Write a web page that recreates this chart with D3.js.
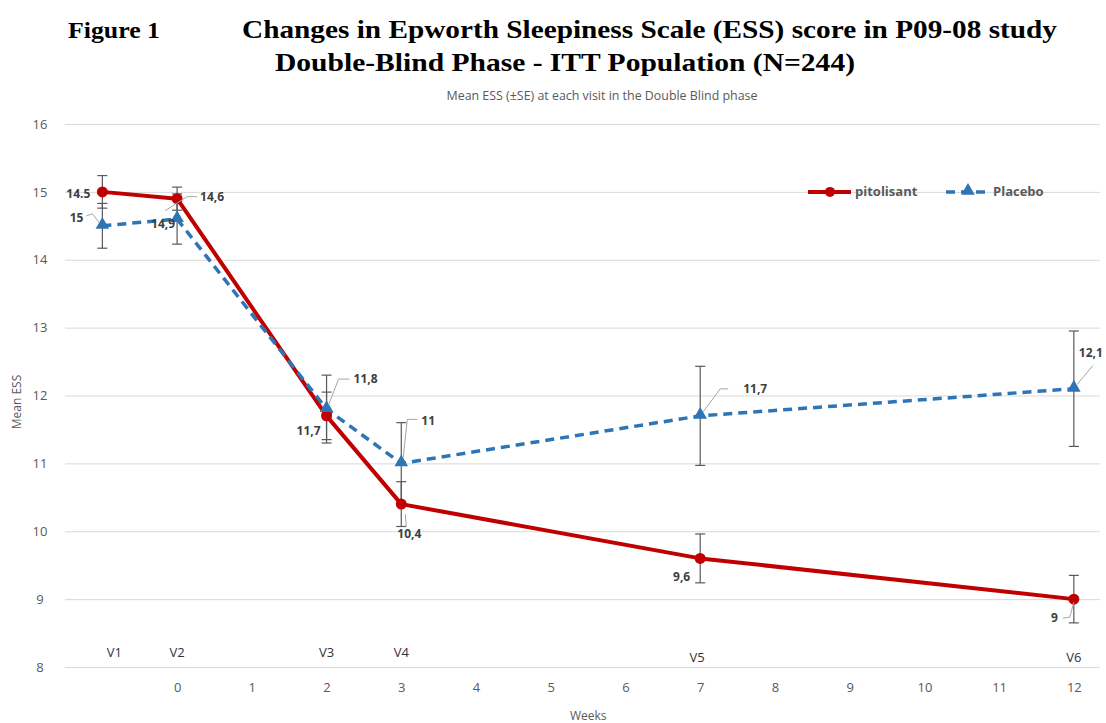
<!doctype html>
<html lang="en">
<head>
<meta charset="UTF-8">
<title>ESS scores</title>
<style>
  body { margin: 0; background: #fff; }
  svg text { font-family: "Liberation Sans Narrow", "Open Sans", Arial, sans-serif; }
  .title { font-family: "Liberation Serif", "Times New Roman", serif !important; font-weight: bold; fill: #000; }
</style>
</head>
<body>
<div id="chart"></div>
<script src="https://d3js.org/d3.v7.min.js"></script>
<script>
  const weeks = [-1, 0, 2, 3, 7, 12]
  const visits = ['V1', 'V2', 'V3', 'V4', 'V5', 'V6']
  const weekTicks = [0, 1, 2, 3, 4, 5, 6, 7, 8, 9, 10, 11, 12]
  const yTicks = [8, 9, 10, 11, 12, 13, 14, 15, 16]

  const pitolisant = [15.0, 14.9, 11.7, 10.4, 9.6, 9.0]
  const pitolisantSE = [0.24, 0.17, 0.35, 0.33, 0.36, 0.35]
  const pitolisantLabels = ['14.5', '14,6', '11,7', '10,4', '9,6', '9']

  const placebo = [14.5, 14.6, 11.8, 11.0, 11.7, 12.1]
  const placeboSE = [0.33, 0.37, 0.5, 0.6, 0.73, 0.85]
  const placeboLabels = ['15', '14,9', '11,8', '11', '11,7', '12,1']

  const W = 1106, H = 723
  const red = '#c00000', blue = '#2e75b6'

  const svg = d3.select('#chart').append('svg')
    .attr('width', W).attr('height', H)

  const x = d3.scaleLinear().domain([-1.5, 12.35]).range([65, 1100])
  const y = d3.scaleLinear().domain([8, 16]).range([667, 124])

  // titles
  svg.append('text').attr('class', 'title').attr('x', 68).attr('y', 38)
    .style('font-size', '24px').attr('textLength', 92).attr('lengthAdjust', 'spacingAndGlyphs')
    .text('Figure 1')
  svg.append('text').attr('class', 'title').attr('x', 242).attr('y', 38)
    .style('font-size', '25px').attr('textLength', 815).attr('lengthAdjust', 'spacingAndGlyphs')
    .text('Changes in Epworth Sleepiness Scale (ESS) score in P09-08 study')
  svg.append('text').attr('class', 'title').attr('x', 275).attr('y', 71)
    .style('font-size', '25px').attr('textLength', 580).attr('lengthAdjust', 'spacingAndGlyphs')
    .text('Double-Blind Phase - ITT Population (N=244)')
  svg.append('text').attr('x', 602).attr('y', 100).attr('text-anchor', 'middle')
    .style('font-size', '12px').style('fill', '#595959')
    .attr('textLength', 311).attr('lengthAdjust', 'spacingAndGlyphs')
    .text('Mean ESS (±SE) at each visit in the Double Blind phase')

  // y axis + gridlines
  const yAxis = svg.append('g')
    .attr('transform', 'translate(65,0)')
    .call(d3.axisLeft(y).tickValues(yTicks).tickSize(-(1100 - 65)).tickFormat(d3.format('d')))
  yAxis.select('.domain').remove()
  yAxis.selectAll('.tick line').attr('stroke', '#d9d9d9')
  yAxis.selectAll('.tick text')
    .attr('x', -25).attr('text-anchor', 'middle')
    .style('font-size', '13px').style('fill', '#595959').style('font-family', null)

  svg.append('text')
    .attr('transform', 'translate(21,402) rotate(-90)')
    .attr('text-anchor', 'middle')
    .style('font-size', '12px').style('fill', '#595959')
    .text('Mean ESS')

  // x axis (weeks)
  const xAxis = svg.append('g')
    .attr('transform', 'translate(0,680)')
    .call(d3.axisBottom(x).tickValues(weekTicks).tickSize(0).tickFormat(d3.format('d')))
  xAxis.select('.domain').remove()
  xAxis.selectAll('.tick text')
    .style('font-size', '13px').style('fill', '#595959').style('font-family', null)

  svg.append('text').attr('x', x(7) - 112).attr('y', 720).attr('text-anchor', 'middle')
    .style('font-size', '12px').style('fill', '#595959')
    .text('Weeks')

  // visit labels
  svg.selectAll('.visit').data(visits).enter().append('text')
    .attr('class', 'visit')
    .attr('x', (d, i) => x(weeks[i]) + (i === 0 ? 12 : i === 4 ? -3 : 0))
    .attr('y', (d, i) => i >= 4 ? 662 : 657)
    .attr('text-anchor', 'middle')
    .style('font-size', '13px').style('fill', '#333')
    .text(d => d)

  const series = [
    { name: 'pitolisant', vals: pitolisant, se: pitolisantSE, labels: pitolisantLabels, color: red, dash: null, width: 4 },
    { name: 'Placebo', vals: placebo, se: placeboSE, labels: placeboLabels, color: blue, dash: '9,6', width: 3.5 }
  ]

  // error bars
  series.forEach(s => {
    const g = svg.append('g').attr('stroke', '#595959').attr('stroke-width', 1.2)
    s.vals.forEach((v, i) => {
      const cx = x(weeks[i])
      const top = y(v + s.se[i]), bot = y(v - s.se[i])
      g.append('line').attr('x1', cx).attr('x2', cx).attr('y1', top).attr('y2', bot)
      g.append('line').attr('x1', cx - 5).attr('x2', cx + 5).attr('y1', top).attr('y2', top)
      g.append('line').attr('x1', cx - 5).attr('x2', cx + 5).attr('y1', bot).attr('y2', bot)
    })
  })

  const line = d3.line().x((d, i) => x(weeks[i])).y(d => y(d))

  // placebo first then pitolisant on top? placebo drawn above in reference
  const order = [series[0], series[1]]
  order.forEach(s => {
    svg.append('path').datum(s.vals)
      .attr('d', line)
      .attr('fill', 'none')
      .attr('stroke', s.color)
      .attr('stroke-width', s.width)
      .attr('stroke-dasharray', s.dash)
      .attr('stroke-linejoin', 'round')
  })

  svg.selectAll('.dot').data(pitolisant).enter().append('circle')
    .attr('cx', (d, i) => x(weeks[i])).attr('cy', d => y(d)).attr('r', 5.5).attr('fill', red)

  const tri = d3.symbol().type(d3.symbolTriangle).size(80)
  svg.selectAll('.tri').data(placebo).enter().append('path')
    .attr('d', tri)
    .attr('transform', (d, i) => `translate(${x(weeks[i])},${y(d) - 1})`)
    .attr('fill', blue)

  // data labels (placement offsets relative to each point, px)
  const pitPlace = [
    { dx: -12, dy: 2, anchor: 'end' },
    { dx: 23, dy: -2, anchor: 'start', lead: [[20, -2], [10, -2], [-12, 12]] },
    { dx: -6, dy: 15, anchor: 'end' },
    { dx: 8, dy: 30, anchor: 'middle', lead: [[5, 22], [4, 10]] },
    { dx: -10, dy: 18, anchor: 'end' },
    { dx: -16, dy: 19, anchor: 'end', lead: [[-11, 19], [-4, 18], [0, 3]] }
  ]
  const plaPlace = [
    { dx: -19, dy: -8, anchor: 'end', lead: [[-16, -10], [-10, -12], [-3, -3]] },
    { dx: -2, dy: 5, anchor: 'end' },
    { dx: 27, dy: -30, anchor: 'start', lead: [[23, -30], [12, -30], [2, -4]] },
    { dx: 20, dy: -43, anchor: 'start', lead: [[16, -44], [6, -44], [2, -6]] },
    { dx: 43, dy: -27, anchor: 'start', lead: [[28, -27], [20, -27], [3, -4]] },
    { dx: 5, dy: -36, anchor: 'start', lead: [[19, -23], [3, -4]] }
  ]

  const lab = svg.append('g')
  ;[[series[0], pitPlace], [series[1], plaPlace]].forEach(([s, place]) => {
    s.vals.forEach((v, i) => {
      const px = x(weeks[i]), py = y(v)
      const p = place[i]
      if (p.lead) {
        lab.append('path')
          .attr('d', d3.line()(p.lead.map(q => [px + q[0], py + q[1]])))
          .attr('fill', 'none').attr('stroke', '#a6a6a6').attr('stroke-width', 1)
      }
      lab.append('text')
        .attr('x', px + p.dx).attr('y', py + p.dy).attr('dy', '0.35em')
        .attr('text-anchor', p.anchor)
        .style('font-size', '12px').style('font-weight', 'bold').style('fill', '#404040')
        .text(s.labels[i])
    })
  })

  // legend
  const leg = svg.append('g').attr('transform', `translate(0,${y(15)})`)
  leg.append('line').attr('x1', 808).attr('x2', 851).attr('stroke', red).attr('stroke-width', 4)
  leg.append('circle').attr('cx', 830).attr('r', 5).attr('fill', red)
  leg.append('text').attr('x', 855).attr('dy', '0.35em')
    .style('font-size', '13px').style('font-weight', 'bold').style('fill', '#595959').text('pitolisant')
  leg.append('line').attr('x1', 946).attr('x2', 990).attr('stroke', blue).attr('stroke-width', 3.5)
    .attr('stroke-dasharray', '9,6')
  leg.append('path').attr('d', tri).attr('transform', 'translate(968,-1)').attr('fill', blue)
  leg.append('text').attr('x', 993).attr('dy', '0.35em')
    .style('font-size', '13px').style('font-weight', 'bold').style('fill', '#595959').text('Placebo')
</script>
</body>
</html>
